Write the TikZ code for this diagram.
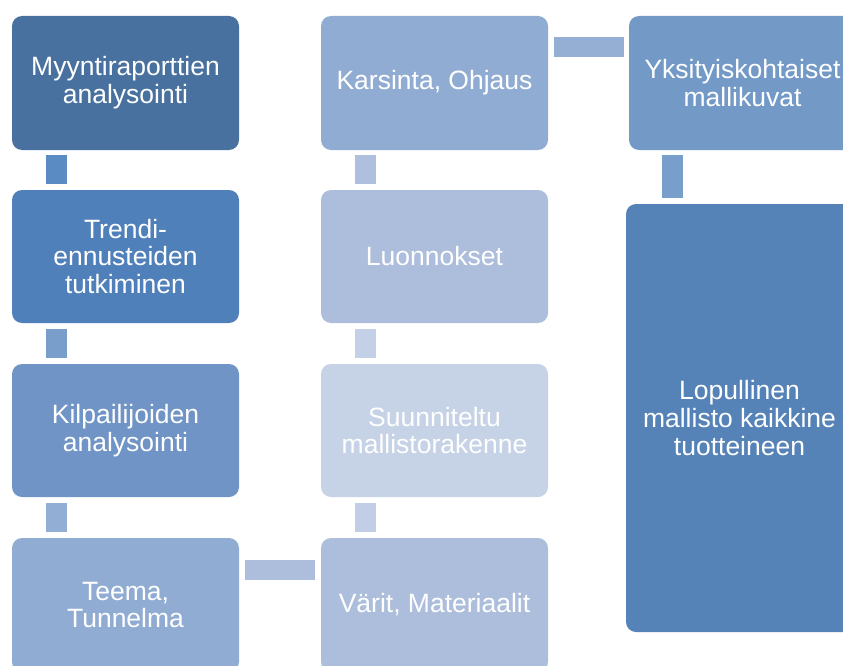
\documentclass[tikz,border=0pt]{standalone}
\usepackage{fontspec}
\setmainfont{Liberation Sans}
\definecolor{cA}{HTML}{48719F}
\definecolor{cB}{HTML}{5080B9}
\definecolor{cC}{HTML}{7094C6}
\definecolor{cD}{HTML}{91ACD2}
\definecolor{cE}{HTML}{ADBEDC}
\definecolor{cF}{HTML}{C6D2E6}
\definecolor{cG}{HTML}{7399C7}
\definecolor{cH}{HTML}{5683B7}
\definecolor{kA}{HTML}{5B8BC3}
\definecolor{kB}{HTML}{7A9ECC}
\definecolor{kC}{HTML}{93AED4}
\definecolor{kD}{HTML}{ADBEDC}
\definecolor{kE}{HTML}{C1CEE5}
\definecolor{kF}{HTML}{C3D0E6}
\definecolor{kG}{HTML}{AEC0DD}
\definecolor{kH}{HTML}{94AED4}
\definecolor{kI}{HTML}{789ECC}
\tikzset{
  box/.style={rectangle, rounded corners=10pt, minimum width=227pt, minimum height=134pt,
    inner sep=0pt, text=white, align=center, font=\fontsize{26.5}{27.8}\selectfont},
  vconn/.style={line width=21pt},
  hconn/.style={line width=20pt},
}
\begin{document}
\begin{tikzpicture}[x=1pt,y=-1pt]
\useasboundingbox (0,0) rectangle (843,666);
\clip (0,0) rectangle (843,666);
\node[box, fill=cA] (b1) at (125.5,83) {Myyntiraporttien\\analysointi};
\node[box, fill=cB, minimum height=133pt] (b2) at (125.5,256.5) {Trendi-\\ennusteiden\\tutkiminen};
\node[box, fill=cC, minimum height=133pt] (b3) at (125.5,430.5) {Kilpailijoiden\\analysointi};
\node[box, fill=cD] (b4) at (125.5,605) {Teema,\\Tunnelma};
\node[box, fill=cE] (b5) at (434.5,605) {Värit, Materiaalit};
\node[box, fill=cF, minimum height=133pt] (b6) at (434.5,430.5) {Suunniteltu\\mallistorakenne};
\node[box, fill=cE, minimum height=133pt] (b7) at (434.5,256.5) {Luonnokset};
\node[box, fill=cD] (b8) at (434.5,83) {Karsinta, Ohjaus};
\node[box, fill=cG] (b9) at (742.5,83) {Yksityiskohtaiset\\mallikuvat};
\node[box, fill=cH, minimum height=428pt] (b10) at (739.5,418) {Lopullinen\\mallisto kaikkine\\tuotteineen};
% vertical connectors
\draw[vconn, kA] ([xshift=44.5pt,yshift=-5pt]b1.south west) -- ([xshift=44.5pt,yshift=6pt]b2.north west);
\draw[vconn, kB] ([xshift=44.5pt,yshift=-6pt]b2.south west) -- ([xshift=44.5pt,yshift=6pt]b3.north west);
\draw[vconn, kC] ([xshift=44.5pt,yshift=-6pt]b3.south west) -- ([xshift=44.5pt,yshift=6pt]b4.north west);
\draw[hconn, kD] ([xshift=6pt,yshift=-32pt]b4.north east) -- ([xshift=-6pt,yshift=-32pt]b5.north west);
\draw[vconn, kE] ([xshift=45pt,yshift=6pt]b5.north west) -- ([xshift=45pt,yshift=-6pt]b6.south west);
\draw[vconn, kF] ([xshift=45pt,yshift=6pt]b6.north west) -- ([xshift=45pt,yshift=-6pt]b7.south west);
\draw[vconn, kG] ([xshift=45pt,yshift=6pt]b7.north west) -- ([xshift=45pt,yshift=-5pt]b8.south west);
\draw[hconn, kH] ([xshift=6pt,yshift=-31.5pt]b8.north east) -- ([xshift=-5pt,yshift=-31.5pt]b9.north west);
\draw[vconn, kI] ([xshift=43.5pt,yshift=-5pt]b9.south west) -- ([xshift=46.5pt,yshift=6pt]b10.north west);
\end{tikzpicture}
\end{document}
